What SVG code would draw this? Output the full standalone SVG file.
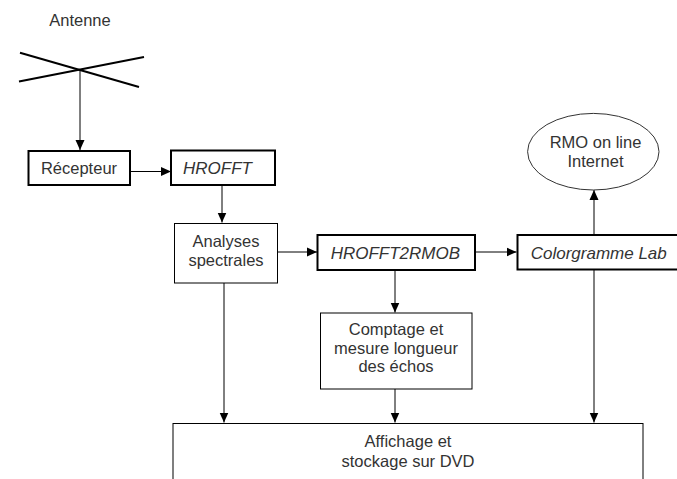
<svg xmlns="http://www.w3.org/2000/svg" width="677" height="479" viewBox="0 0 677 479">
<style>
text{font-family:"Liberation Sans",Arial,sans-serif;font-size:16.5px;fill:#333}
.c{text-anchor:middle}
.i{font-style:italic;font-size:17px}
.thick{fill:#fff;stroke:#000;stroke-width:2}
.thin{fill:#fff;stroke:#000;stroke-width:1}
.ln{stroke:#000;stroke-width:1;fill:none}
</style>
<defs>
<marker id="ah" viewBox="0 0 10 10" refX="10" refY="5" markerWidth="10" markerHeight="10" markerUnits="userSpaceOnUse" orient="auto">
<path d="M0,0.5 L10,5 L0,9.5 Z" fill="#000"/>
</marker>
</defs>
<g id="antenne">
<text class="c" x="80" y="26">Antenne</text>
<line x1="20" y1="52.7" x2="139" y2="87" stroke="#000" stroke-width="2"/>
<line x1="19" y1="81.5" x2="144" y2="57" stroke="#000" stroke-width="2"/>
</g>
<g id="connectors">
<line class="ln" x1="80" y1="70" x2="80" y2="150" marker-end="url(#ah)"/>
<line class="ln" x1="130" y1="171.5" x2="171" y2="171.5" marker-end="url(#ah)"/>
<line class="ln" x1="222" y1="185" x2="222" y2="222.5" marker-end="url(#ah)"/>
<line class="ln" x1="277.5" y1="252" x2="317" y2="252" marker-end="url(#ah)"/>
<line class="ln" x1="475" y1="252" x2="516.5" y2="252" marker-end="url(#ah)"/>
<line class="ln" x1="594" y1="235" x2="594" y2="190" marker-end="url(#ah)"/>
<line class="ln" x1="395" y1="270" x2="395" y2="312.5" marker-end="url(#ah)"/>
<line class="ln" x1="224" y1="283" x2="224" y2="422.5" marker-end="url(#ah)"/>
<line class="ln" x1="395" y1="389" x2="395" y2="422.5" marker-end="url(#ah)"/>
<line class="ln" x1="594" y1="270" x2="594" y2="422.5" marker-end="url(#ah)"/>
</g>
<g id="recepteur">
<rect class="thick" x="28.5" y="151" width="101.5" height="34"/>
<text class="c" x="79" y="174.3">Récepteur</text>
</g>
<g id="hrofft">
<rect class="thick" x="171" y="150.5" width="104" height="34.5"/>
<text class="i" x="183" y="174.3">HROFFT</text>
</g>
<g id="analyses">
<rect class="thin" x="174.5" y="223.5" width="103" height="59.5"/>
<text class="c" x="226" y="246.5">Analyses</text>
<text class="c" x="226" y="265.5">spectrales</text>
</g>
<g id="hrofft2rmob">
<rect class="thick" x="317.5" y="235" width="157.5" height="35"/>
<text class="i" x="330.7" y="258.7">HROFFT2RMOB</text>
</g>
<g id="colorgramme">
<rect class="thick" x="517.5" y="235" width="170" height="34.5"/>
<text class="i" x="530.7" y="258.7">Colorgramme Lab</text>
</g>
<g id="rmo">
<ellipse cx="593.3" cy="151.7" rx="65.7" ry="38.3" fill="#fff" stroke="#333" stroke-width="1"/>
<text class="c" x="595.5" y="148.3">RMO on line</text>
<text class="c" x="595.5" y="166.7">Internet</text>
</g>
<g id="comptage">
<rect class="thin" x="320.5" y="313" width="151.5" height="76"/>
<text class="c" x="396" y="334.5">Comptage et</text>
<text class="c" x="396" y="353.5">mesure longueur</text>
<text class="c" x="396" y="372">des échos</text>
</g>
<g id="affichage">
<rect class="thin" x="173" y="423.5" width="470" height="70"/>
<text class="c" x="408" y="446.5">Affichage et</text>
<text class="c" x="408" y="466.5">stockage sur DVD</text>
</g>
</svg>
